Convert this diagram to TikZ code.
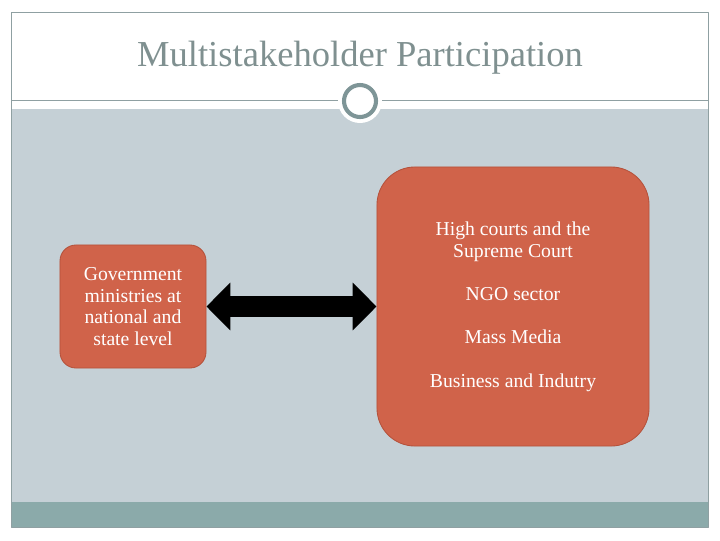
\documentclass[tikz,border=0pt]{standalone}
\usepackage{fontspec}
\setmainfont{Liberation Serif}
\usetikzlibrary{arrows.meta,positioning}
\definecolor{mspTitle}{HTML}{7F9090}
\definecolor{mspLine}{HTML}{8FA0A2}
\definecolor{mspBack}{HTML}{C5D0D6}
\definecolor{mspBar}{HTML}{8BAAAA}
\definecolor{mspRing}{HTML}{7E9597}
\definecolor{mspBox}{HTML}{D0634A}
\definecolor{mspBoxEdge}{HTML}{B4513B}

\begin{document}
\begin{tikzpicture}[x=0.025cm, y=-0.025cm, line join=round,
  stakebox/.style={draw=mspBoxEdge, fill=mspBox, line width=0.6pt, text=white,
    align=center, inner sep=0pt, font=\fontsize{14}{15.4}\selectfont},
  twoway/.style={line width=15.6pt,
    {Triangle[length=17pt, width=33pt]}-{Triangle[length=17pt, width=33pt]}}]
  \useasboundingbox (0,0) rectangle (720,540);

  % Frame and bands
  \fill[mspBack] (11,109) rectangle (708,502);
  \fill[mspBar] (11,502) rectangle (708,527);
  \draw[mspLine, line width=0.6pt] (11,12) rectangle (708,527);
  \draw[mspLine, line width=0.6pt] (11,100) -- (708,100);

  % Title
  \node[font=\fontsize{26}{30}\selectfont, text=mspTitle] (title) at (360,58)
    {Multistakeholder Participation};

  % Ring on the divider
  \fill[white] (360,101) circle (22);
  \draw[mspRing, line width=2.9pt] (360,101) circle (16);

  % Stakeholder boxes
  \node[stakebox, minimum width=3.65cm, minimum height=3.075cm,
        rounded corners=0.4cm] (gov) at (133,306.5)
    {Government\\ministries at\\national and\\state level};
  \node[stakebox, minimum width=6.8cm, minimum height=6.975cm,
        rounded corners=0.95cm] (others) at (513,306.5)
    {High courts and the\\Supreme Court\\[15.4pt]NGO sector\\[15.4pt]Mass Media\\[15.4pt]Business and Indutry};

  % Two-way link
  \draw[twoway] (gov.east) -- (others.west);
\end{tikzpicture}
\end{document}
